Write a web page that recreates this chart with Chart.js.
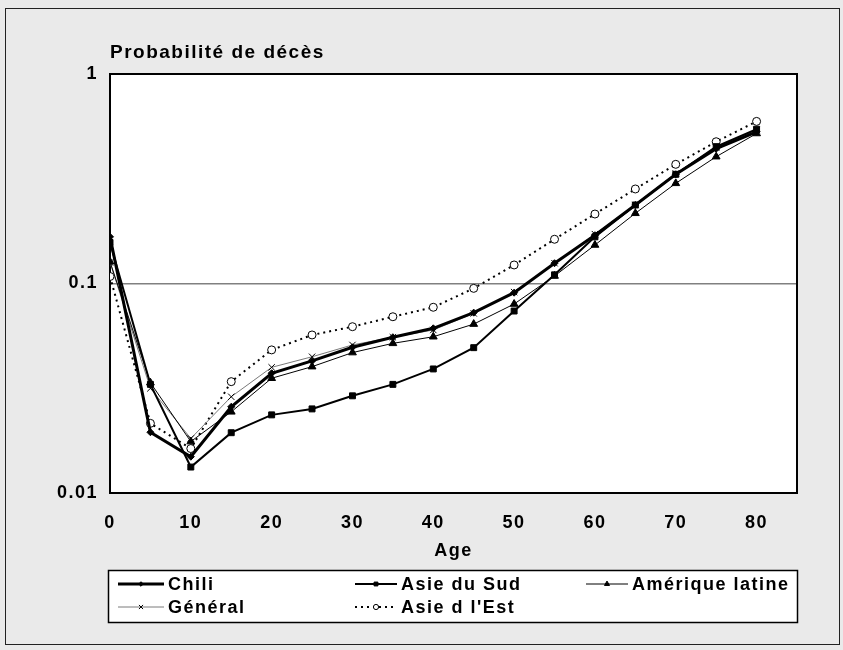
<!DOCTYPE html>
<html>
<head>
<meta charset="utf-8">
<script src="https://cdn.jsdelivr.net/npm/chart.js@4.4.1/dist/chart.umd.min.js"></script>
<style>
html,body{margin:0;padding:0;background:#eaeaea;}
#wrap{width:843px;height:650px;position:relative;}
</style>
</head>
<body>
<div id="wrap"><canvas id="c" width="843" height="650"></canvas></div>
<script>
// ---- data ----
const ages = [0,5,10,15,20,25,30,35,40,45,50,55,60,65,70,75,80];
const chili = [0.167,0.0195,0.0149,0.0258,0.0373,0.0427,0.0496,0.0554,0.0611,0.0726,0.0904,0.125,0.170,0.237,0.332,0.44,0.53];
const asieSud = [0.157,0.033,0.0133,0.0194,0.0236,0.0252,0.0291,0.033,0.0391,0.0494,0.0739,0.110,0.167,0.237,0.332,0.45,0.545];
const ameriqueLatine = [0.127,0.0336,0.0176,0.0244,0.0353,0.0401,0.0468,0.0518,0.0557,0.064,0.0798,0.1086,0.1527,0.2163,0.3007,0.403,0.52];
const general = [0.126,0.0316,0.0182,0.0288,0.0398,0.0447,0.0509,0.0554,0.0600,0.0720,0.0910,0.125,0.172,0.237,0.335,0.445,0.54];
const asieEst = [0.108,0.0215,0.0163,0.034,0.0482,0.0568,0.0622,0.0694,0.077,0.0948,0.1226,0.1626,0.2146,0.2826,0.3706,0.475,0.594];
const seriesNames = ['Chili','Asie du Sud','Amérique latine','Général',"Asie d l'Est"];
const xTickValues = [0,10,20,30,40,50,60,70,80];
const yTickValues = [0.01,0.1,1];
const yTickLabels = ['0.01','0.1','1'];
const titleText = 'Probabilité de décès';
const xTitleText = 'Age';

const FONT = "'Liberation Sans', Arial, sans-serif";
const SPACING = '1.5px';
const pts = arr => ages.map((a,i)=>({x:a,y:arr[i]}));

const datasets = [
  {label:seriesNames[0], data:pts(chili), borderColor:'#000', borderWidth:3, pointStyle:'rectRot', pointRadius:3.5, pointBackgroundColor:'#000', pointBorderColor:'#000', pointBorderWidth:1},
  {label:seriesNames[1], data:pts(asieSud), borderColor:'#000', borderWidth:2, pointStyle:'rect', pointRadius:4.2, pointBackgroundColor:'#000', pointBorderColor:'#000', pointBorderWidth:1},
  {label:seriesNames[2], data:pts(ameriqueLatine), borderColor:'#000', borderWidth:1, pointStyle:'triangle', pointRadius:4.5, pointBackgroundColor:'#000', pointBorderColor:'#000', pointBorderWidth:1},
  {label:seriesNames[3], data:pts(general), borderColor:'#7a7a7a', borderWidth:1, pointStyle:'crossRot', pointRadius:4.5, pointBackgroundColor:'#000', pointBorderColor:'#000', pointBorderWidth:1},
  {label:seriesNames[4], data:pts(asieEst), borderColor:'#000', borderWidth:2, borderDash:[2,4], pointStyle:'circle', pointRadius:4, pointBackgroundColor:'#fff', pointBorderColor:'#000', pointBorderWidth:1}
];
datasets.forEach(d=>{d.tension=0; d.fill=false; d.pointHoverRadius=d.pointRadius;});

const frame = {
  id:'frame',
  beforeUpdate(chart){ chart.ctx.letterSpacing = SPACING; },
  beforeDraw(chart){
    const {ctx, chartArea:a} = chart;
    ctx.letterSpacing = SPACING;
    ctx.save();
    ctx.fillStyle = '#eaeaea';
    ctx.fillRect(0,0,chart.width,chart.height);
    ctx.strokeStyle = '#222'; ctx.lineWidth = 1;
    ctx.strokeRect(5.5,8.5,834,636);
    ctx.fillStyle = '#fff';
    ctx.fillRect(a.left,a.top,a.right-a.left,a.bottom-a.top);
    ctx.restore();
  },
  beforeDatasetsDraw(chart){
    const {ctx, chartArea:a} = chart;
    ctx.save();
    ctx.strokeStyle = '#000'; ctx.lineWidth = 2;
    ctx.strokeRect(a.left,a.top,a.right-a.left,a.bottom-a.top);
    ctx.restore();
  },
  afterDraw(chart){
    const ctx = chart.ctx;
    ctx.save();
    ctx.letterSpacing = SPACING;
    const L=108.5, R=797.5, T=570.5, B=622.5;
    ctx.fillStyle='#fff'; ctx.fillRect(L,T,R-L,B-T);
    ctx.strokeStyle='#000'; ctx.lineWidth=1.5; ctx.strokeRect(L,T,R-L,B-T);
    const sampleStart=[118,355,586], textStart=[168,401,632], rows=[584,607];
    chart.data.datasets.forEach((ds,i)=>{
      const c = i%3, y = rows[Math.floor(i/3)];
      const x0 = sampleStart[c], x1 = textStart[c]-4;
      ctx.save();
      ctx.strokeStyle = ds.borderColor; ctx.lineWidth = ds.borderWidth;
      ctx.setLineDash(ds.borderDash||[]);
      ctx.beginPath(); ctx.moveTo(x0,y); ctx.lineTo(x1,y); ctx.stroke();
      ctx.setLineDash([]);
      ctx.fillStyle = ds.pointBackgroundColor; ctx.strokeStyle = ds.pointBorderColor; ctx.lineWidth = 1;
      Chart.helpers.drawPoint(ctx,{pointStyle:ds.pointStyle, radius:ds.pointRadius*0.65, rotation:0, borderWidth:1}, (x0+x1)/2, y);
      ctx.restore();
      ctx.fillStyle='#000';
      ctx.font = "bold 18px "+FONT;
      ctx.textBaseline='middle'; ctx.textAlign='left';
      ctx.fillText(ds.label, textStart[c], y+1);
    });
    ctx.restore();
  }
};

new Chart(document.getElementById('c'), {
  type:'line',
  data:{datasets},
  options:{
    responsive:false, animation:false, events:[],
    layout:{padding:{left:0,right:46,top:0,bottom:0}},
    plugins:{
      legend:{display:false},
      tooltip:{enabled:false},
      title:{display:true, text:titleText, align:'start', fullSize:false, color:'#000',
        font:{family:FONT, size:19, weight:'bold'}, padding:{top:41,bottom:10.2}}
    },
    scales:{
      x:{type:'linear', min:0, max:85,
        afterBuildTicks(s){ s.ticks = xTickValues.map(v=>({value:v})); },
        afterFit(s){ s.height = 157; },
        grid:{display:false, drawTicks:false}, border:{display:false},
        ticks:{color:'#000', padding:19, font:{family:FONT,size:18,weight:'bold'}, maxRotation:0, autoSkip:false},
        title:{display:true, text:xTitleText, color:'#000', font:{family:FONT,size:18,weight:'bold'}, padding:{top:0,bottom:88}}
      },
      y:{type:'logarithmic', min:0.01, max:1,
        afterBuildTicks(s){ s.ticks = yTickValues.map(v=>({value:v})); },
        afterFit(s){ s.width = 110; },
        grid:{drawTicks:false, color:c=> (c.tick && c.tick.value===0.1) ? '#808080' : 'rgba(0,0,0,0)', lineWidth:1.5},
        border:{display:false},
        ticks:{color:'#000', padding:12, font:{family:FONT,size:18,weight:'bold'}, autoSkip:false,
          callback:(v)=>{ const i = yTickValues.indexOf(v); return i>=0 ? yTickLabels[i] : ''; }}
      }
    }
  },
  plugins:[frame]
});
</script>
</body>
</html>
